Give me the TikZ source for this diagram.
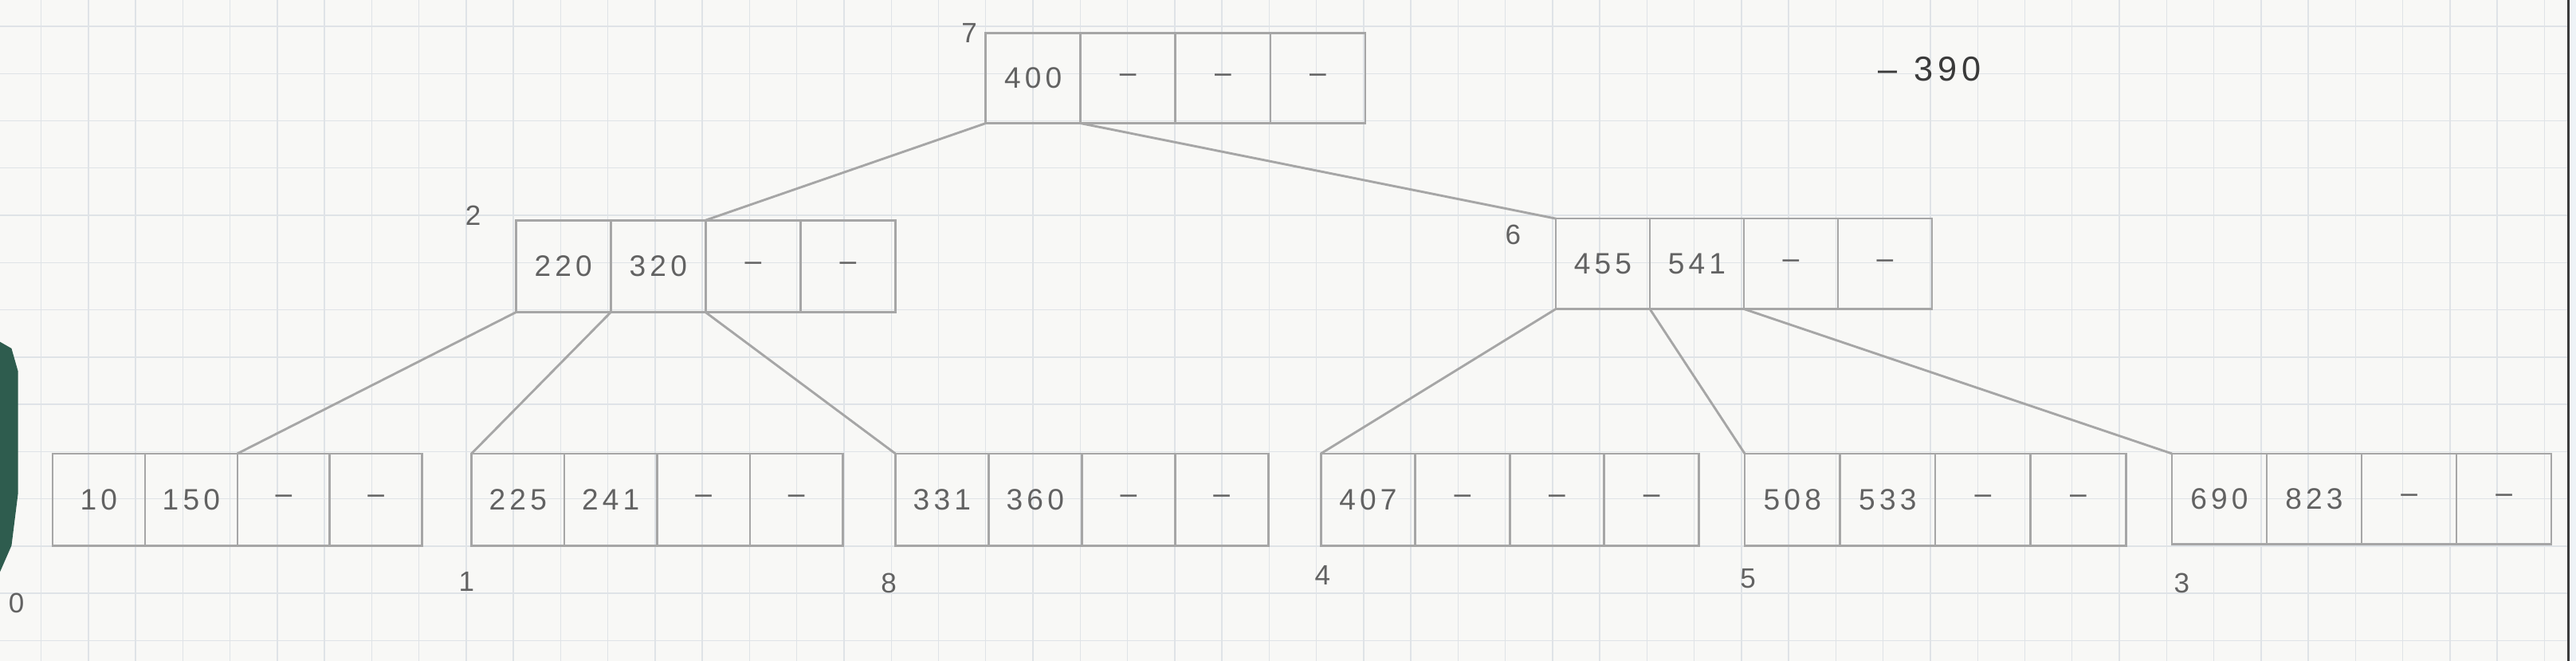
\documentclass[tikz,border=0pt]{standalone}
\usepackage{fontspec}
\setmainfont{Liberation Sans}
\newfontfamily\hand[LetterSpace=14]{Liberation Sans}
\definecolor{paper}{HTML}{F8F8F6}
\definecolor{gridc}{HTML}{DFE3E7}
\definecolor{pencil}{HTML}{A6A6A6}
\definecolor{ink}{HTML}{626262}
\definecolor{darkink}{HTML}{3A3A3A}
\definecolor{scan}{HTML}{2E5C4E}
\definecolor{edge}{HTML}{EEF3F7}
\tikzset{
  cell/.style={draw=pencil, line width=1.3pt, rectangle, inner sep=0pt, outer sep=0pt,
    font=\hand\fontsize{18}{18}\selectfont, text=ink},
  link/.style={draw=pencil, line width=1.4pt},
  tag/.style={font=\hand\fontsize{17}{17}\selectfont, text=ink, inner sep=0pt},
  gridline/.style={draw=gridc, line width=0.7pt}
}
\newcommand{\bnode}[6]{%
  \foreach \k [count=\i] in {#6} {
    \node[cell, minimum width=#4pt, minimum height=#5pt, anchor=north west] (#1-\i) at ({#2+(\i-1)*#4},#3) {\k};
  }}
\begin{document}
\begin{tikzpicture}[x=1pt,y=-1pt]
\useasboundingbox (0,0) rectangle (1568,402);
\fill[paper] (0,0) rectangle (1568,402);
% graph paper
\foreach \gx in {0,...,53} \draw[gridline] ({25+\gx*28.75},0) -- ++(0,402);
\foreach \gy in {0,...,13} \draw[gridline] (0,{16+\gy*28.75}) -- ++(1568,0);
% scan edges
\fill[scan] (0,208) -- (7,212) -- (11,226) -- (11,300) -- (7,332) -- (0,348) -- cycle;
\fill[edge] (1564,0) rectangle (1568,402);
\draw[darkink, line width=1.6pt] (1563.5,0) -- (1563.5,402);
% B-tree nodes
\bnode{r}{600}{20}{57.75}{55}{400,–,–,–}
\bnode{a}{314}{134}{57.75}{56}{220,320,–,–}
\bnode{b}{947}{133}{57.25}{55}{455,541,–,–}
\bnode{cz}{32}{276}{56.25}{56}{10,150,–,–}
\bnode{co}{287}{276}{56.5}{56}{225,241,–,–}
\bnode{ce}{545}{276}{56.75}{56}{331,360,–,–}
\bnode{cf}{804}{276}{57.5}{56}{407,–,–,–}
\bnode{cv}{1062}{276}{58}{56}{508,533,–,–}
\bnode{ct}{1322}{276}{57.75}{55}{690,823,–,–}
% connectors
\draw[link] (r-1.south west) -- (a-3.north west);
\draw[link] (r-2.south west) -- (b-1.north west);
\draw[link] (a-1.south west) -- (cz-3.north west);
\draw[link] (a-2.south west) -- (co-1.north west);
\draw[link] (a-3.south west) -- (ce-1.north west);
\draw[link] (b-1.south west) -- (cf-1.north west);
\draw[link] (b-2.south west) -- (cv-1.north west);
\draw[link] (b-3.south west) -- (ct-1.north west);
% page labels
\node[tag] (l7) at (590,20) {7};
\node[tag] (l2) at (288,131) {2};
\node[tag] (l6) at (921,143) {6};
\node[tag] (l0) at (10,367) {0};
\node[tag] (l1) at (284,354) {1};
\node[tag] (l8) at (541,355) {8};
\node[tag] (l4) at (805,350) {4};
\node[tag] (l5) at (1064,352) {5};
\node[tag] (l3) at (1328,355) {3};
\node[tag, anchor=west, text=darkink, font=\hand\fontsize{21}{21}\selectfont] (extra) at (1143,42) {–\hspace{10pt}390};
\end{tikzpicture}
\end{document}
